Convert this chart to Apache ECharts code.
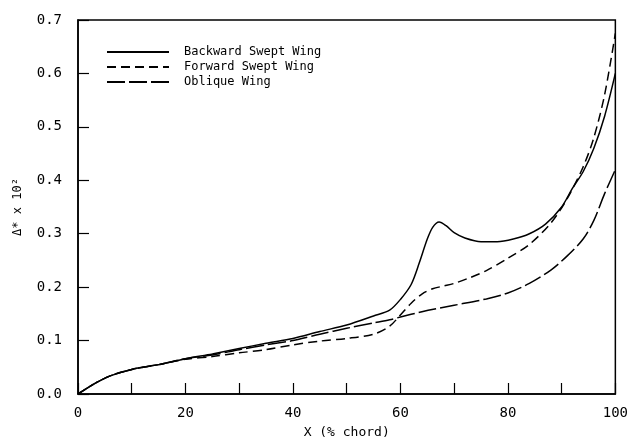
<!DOCTYPE html>
<html>
  <head>
    <meta charset="UTF-8">
    <title></title>
    <style type="text/css">
      * {margin: 0; padding: 0;}
      body {background: #fff;}
    </style>
  </head>
  <body>
    <div id="chart" style="width:631px;height:444px"></div>

    <script src="https://cdn.jsdelivr.net/npm/echarts@6.0.0/dist/echarts.min.js"></script>
    <script type="text/javascript">
      // x in % chord, y = delta* x 10^2
      var backX = [0, 3, 6, 10, 15, 20, 25, 30, 35, 40, 45, 50, 55, 58, 60, 62, 63.5, 65, 66, 67.2, 68.5, 70, 72, 75, 78, 81, 84, 87, 90, 92, 94, 96, 98, 100];
      var backY = [0, 0.019, 0.034, 0.046, 0.055, 0.066, 0.075, 0.085, 0.095, 0.104, 0.117, 0.129, 0.146, 0.157, 0.177, 0.205, 0.245, 0.29, 0.312, 0.322, 0.315, 0.302, 0.292, 0.285, 0.285, 0.29, 0.30, 0.318, 0.35, 0.385, 0.416, 0.46, 0.52, 0.60];

      var fwdX = [0, 3, 6, 10, 15, 20, 25, 30, 35, 40, 45, 50, 55, 58, 60, 62, 64, 66, 68, 70, 73, 76, 80, 84, 88, 91, 94, 96, 98, 100];
      var fwdY = [0, 0.019, 0.034, 0.046, 0.055, 0.065, 0.070, 0.077, 0.083, 0.092, 0.099, 0.104, 0.112, 0.127, 0.148, 0.170, 0.187, 0.197, 0.202, 0.207, 0.218, 0.231, 0.254, 0.280, 0.320, 0.365, 0.425, 0.48, 0.56, 0.675];

      var oblX = [0, 3, 6, 10, 15, 20, 25, 30, 35, 40, 45, 50, 55, 58, 60, 64, 70, 76, 80, 84, 88, 91, 94, 96, 98, 100];
      var oblY = [0, 0.019, 0.034, 0.046, 0.055, 0.066, 0.073, 0.083, 0.092, 0.100, 0.112, 0.123, 0.133, 0.139, 0.144, 0.154, 0.166, 0.178, 0.189, 0.207, 0.232, 0.258, 0.290, 0.325, 0.375, 0.42];

      var seriesNames = ['Backward Swept Wing', 'Forward Swept Wing', 'Oblique Wing'];
      var xTicks = [0, 20, 40, 60, 80, 100];

      function pairs(xs, ys) {
        var out = [];
        for (var i = 0; i < xs.length; i++) out.push([xs[i], ys[i]]);
        return out;
      }

      var font = 'DejaVu Sans Mono';
      var chart = echarts.init(document.getElementById('chart'));

      var option = {
        backgroundColor: '#fff',
        animation: false,
        grid: {
          left: 78, right: 5, top: 20, bottom: 46,
          show: true, borderColor: '#000', borderWidth: 1.5
        },
        legend: {
          orient: 'vertical',
          left: 101, top: 41,
          itemWidth: 62, itemHeight: 14, itemGap: 3,
          itemStyle: {opacity: 0},   // hide the dot, keep the line
          data: seriesNames,
          textStyle: {fontFamily: font, fontSize: 12, color: '#000', padding: [0, 0, 0, 10]}
        },
        xAxis: {
          type: 'value',
          min: 0, max: 100, interval: 10,
          name: 'X (% chord)',
          nameLocation: 'middle', nameGap: 32,
          nameTextStyle: {fontFamily: font, fontSize: 13, color: '#000'},
          axisLine: {lineStyle: {color: '#000', width: 1.5}},
          axisTick: {inside: true, length: 11, lineStyle: {color: '#000', width: 1.2}},
          axisLabel: {
            fontFamily: font, fontSize: 14, color: '#000', margin: 12,
            formatter: function (v) { return xTicks.indexOf(v) >= 0 ? String(v) : ''; }
          },
          splitLine: {show: false}
        },
        yAxis: {
          type: 'value',
          min: 0, max: 0.7, interval: 0.1,
          name: 'Δ* x 10²',
          nameLocation: 'middle', nameGap: 54,
          nameTextStyle: {fontFamily: font, fontSize: 12, color: '#000'},
          axisLine: {show: true, lineStyle: {color: '#000', width: 1.5}},
          axisTick: {show: true, inside: true, length: 11, lineStyle: {color: '#000', width: 1.2}},
          axisLabel: {
            fontFamily: font, fontSize: 14, color: '#000', margin: 16,
            formatter: function (v) { return v.toFixed(1); }
          },
          splitLine: {show: false}
        },
        series: [
          {
            name: seriesNames[0], type: 'line', smooth: 0.3, symbol: 'none',
            lineStyle: {color: '#000', width: 1.5, type: 'solid'},
            itemStyle: {color: '#000'},
            data: pairs(backX, backY)
          },
          {
            name: seriesNames[1], type: 'line', smooth: 0.3, symbol: 'none',
            lineStyle: {color: '#000', width: 1.5, type: [9, 5]},
            itemStyle: {color: '#000'},
            data: pairs(fwdX, fwdY)
          },
          {
            name: seriesNames[2], type: 'line', smooth: 0.3, symbol: 'none',
            lineStyle: {color: '#000', width: 1.5, type: [18, 4]},
            itemStyle: {color: '#000'},
            data: pairs(oblX, oblY)
          }
        ]
      };

      chart.setOption(option);
    </script>
  </body>
</html>
